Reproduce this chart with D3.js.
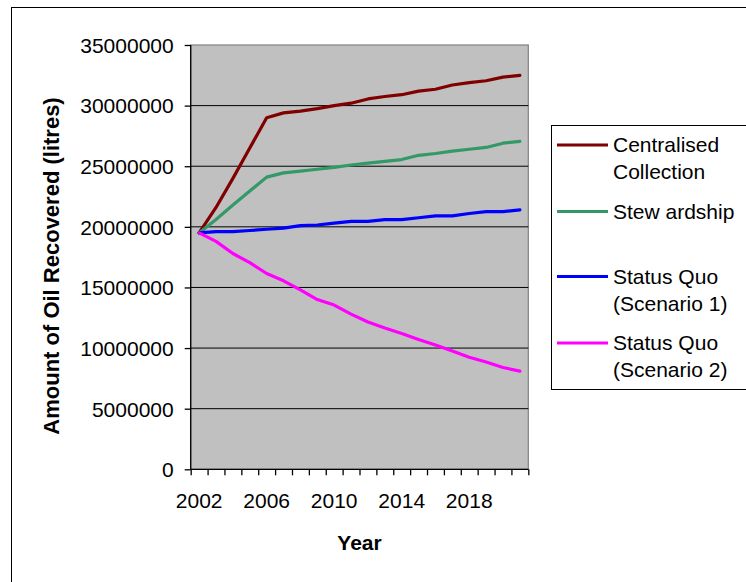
<!DOCTYPE html>
<html>
<head>
<meta charset="utf-8">
<script src="https://cdn.jsdelivr.net/npm/d3@7"></script>
<style>
  html, body { margin: 0; padding: 0; background: #fff; }
  svg { display: block; }
  text { font-family: "Liberation Sans", Arial, sans-serif; fill: #000; }
</style>
</head>
<body>
<svg id="chart" width="746" height="582"></svg>
<script>
// Years on the category axis
const years = d3.range(2002, 2022);
const labeledYears = [2002, 2006, 2010, 2014, 2018];
const yTicks = [0, 5000000, 10000000, 15000000, 20000000, 25000000, 30000000, 35000000];

// Oil recovered (litres) per scenario
const centralised = [19500000, 21600000, 24000000, 26500000, 29000000, 29400000, 29550000, 29750000, 30000000, 30200000,
                     30550000, 30750000, 30900000, 31200000, 31350000, 31700000, 31900000, 32050000, 32350000, 32500000];
const stewardship = [19500000, 20600000, 21800000, 22950000, 24100000, 24450000, 24600000, 24750000, 24900000, 25100000,
                     25250000, 25400000, 25550000, 25900000, 26050000, 26250000, 26400000, 26550000, 26900000, 27050000];
const statusQuo1  = [19500000, 19600000, 19600000, 19700000, 19800000, 19900000, 20100000, 20150000, 20300000, 20450000,
                     20450000, 20600000, 20600000, 20750000, 20900000, 20900000, 21100000, 21250000, 21250000, 21400000];
const statusQuo2  = [19500000, 18800000, 17800000, 17050000, 16150000, 15550000, 14800000, 14000000, 13550000, 12800000,
                     12150000, 11650000, 11200000, 10700000, 10250000, 9750000, 9250000, 8850000, 8400000, 8100000];

const seriesNames = ["Centralised Collection", "Stew ardship", "Status Quo (Scenario 1)", "Status Quo (Scenario 2)"];
const seriesLabelLines = [["Centralised", "Collection"], ["Stew ardship"], ["Status Quo", "(Scenario 1)"], ["Status Quo", "(Scenario 2)"]];
const seriesValues = [centralised, stewardship, statusQuo1, statusQuo2];
const seriesColors = ["#800000", "#339966", "#0000ff", "#ff00ff"];

const svg = d3.select("#chart");

// Outer chart frame (extends past the right and bottom edges)
svg.append("rect")
  .attr("x", 11.5).attr("y", 7.5).attr("width", 800).attr("height", 600)
  .attr("fill", "#fff").attr("stroke", "#000").attr("stroke-width", 1);

const plot = { left: 190.7, right: 528.3, top: 45, bottom: 469.3 };

const x = d3.scaleBand().domain(years).range([plot.left, plot.right]).paddingInner(0).paddingOuter(0);
const xEdge = d3.scaleLinear().domain([0, years.length]).range([plot.left, plot.right]);
const y = d3.scaleLinear().domain([0, 35000000]).range([plot.bottom, plot.top]);

// Plot background
svg.append("rect")
  .attr("x", plot.left).attr("y", plot.top)
  .attr("width", plot.right - plot.left).attr("height", plot.bottom - plot.top)
  .attr("fill", "#c0c0c0").attr("stroke", "#808080").attr("stroke-width", 1.2);

// Horizontal gridlines
svg.append("g").selectAll("line")
  .data(yTicks.filter(d => d > 0 && d < 35000000))
  .join("line")
  .attr("x1", plot.left).attr("x2", plot.right)
  .attr("y1", d => y(d)).attr("y2", d => y(d))
  .attr("stroke", "#000").attr("stroke-width", 1);

// Y axis
const yAxis = svg.append("g")
  .attr("transform", `translate(${plot.left},0)`)
  .call(d3.axisLeft(y).tickValues(yTicks).tickSize(6).tickPadding(11).tickFormat(d3.format("d")));
yAxis.selectAll("text").style("font-size", "21px").attr("dy", "0.35em");
yAxis.selectAll("line, path").attr("stroke", "#000").attr("stroke-width", 1.3);
yAxis.select(".domain").attr("d", `M0,${plot.top}V${plot.bottom}`);

// X axis: tick marks at category boundaries
const xTickAxis = svg.append("g")
  .attr("transform", `translate(0,${plot.bottom})`)
  .call(d3.axisBottom(xEdge).tickValues(d3.range(0, years.length + 1)).tickSize(6).tickFormat(""));
xTickAxis.selectAll("line, path").attr("stroke", "#000").attr("stroke-width", 1.3);
xTickAxis.select(".domain").attr("d", `M${plot.left},0H${plot.right}`);

// X axis: year labels every fourth category
const xLabelAxis = svg.append("g")
  .attr("transform", `translate(0,${plot.bottom})`)
  .call(d3.axisBottom(x).tickValues(labeledYears).tickSize(0).tickPadding(24));
xLabelAxis.select(".domain").remove();
xLabelAxis.selectAll("text").style("font-size", "21px");

// Series lines
const line = d3.line()
  .x((d, i) => x(years[i]) + x.bandwidth() / 2)
  .y(d => y(d));

svg.append("g").selectAll("path")
  .data(seriesValues)
  .join("path")
  .attr("d", d => line(d))
  .attr("fill", "none")
  .attr("stroke", (d, i) => seriesColors[i])
  .attr("stroke-width", 3.2)
  .attr("stroke-linejoin", "round")
  .attr("stroke-linecap", "round");

// Axis titles
svg.append("text")
  .attr("x", (plot.left + plot.right) / 2).attr("y", 550)
  .attr("text-anchor", "middle")
  .style("font-size", "21px").style("font-weight", "bold")
  .text("Year");

svg.append("text")
  .attr("transform", "translate(59,266) rotate(-90)")
  .attr("text-anchor", "middle")
  .style("font-size", "22px").style("font-weight", "bold")
  .text("Amount of Oil Recovered (litres)");

// Legend
const legend = svg.append("g");
legend.append("rect")
  .attr("x", 551.5).attr("y", 125.5).attr("width", 300).attr("height", 264)
  .attr("fill", "#fff").attr("stroke", "#000").attr("stroke-width", 1);

const legendY = [145, 211.5, 276.5, 343];
const item = legend.selectAll("g.item")
  .data(seriesNames)
  .join("g").attr("class", "item")
  .attr("transform", (d, i) => `translate(0,${legendY[i]})`);

item.append("line")
  .attr("x1", 557).attr("x2", 608).attr("y1", 0).attr("y2", 0)
  .attr("stroke", (d, i) => seriesColors[i]).attr("stroke-width", 3.2);

item.append("text")
  .attr("x", 613)
  .style("font-size", "21px")
  .selectAll("tspan")
  .data((d, i) => seriesLabelLines[i])
  .join("tspan")
  .attr("x", 613)
  .attr("y", (d, j) => j * 27)
  .attr("dy", "0.35em")
  .text(d => d);
</script>
</body>
</html>
